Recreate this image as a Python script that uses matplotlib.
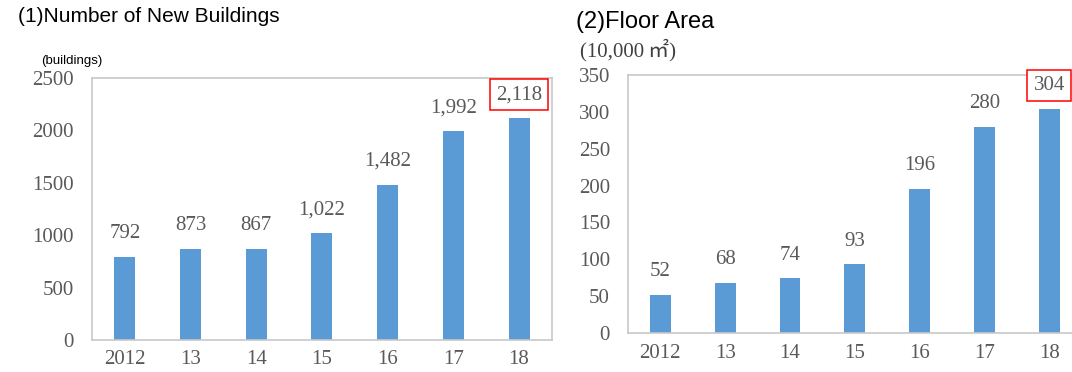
import matplotlib.pyplot as plt

# fiscal years on the x axis
years = ["2012", "13", "14", "15", "16", "17", "18"]
# (1) number of new buildings
buildings = [792, 873, 867, 1022, 1482, 1992, 2118]
# (2) floor area, in 10,000 m2
floor_area = [52, 68, 74, 93, 196, 280, 304]

bar_color = "#5B9BD5"
text_color = "#595959"
frame_color = "#C8C8C8"
num_font = ["Liberation Serif", "Noto Sans CJK JP"]

fig = plt.figure(figsize=(10.72, 3.72), dpi=100)
ax1 = fig.add_axes([0.0858, 0.086, 0.429, 0.704])
ax2 = fig.add_axes([0.5858, 0.1048, 0.4231, 0.6935])


def draw_panel(ax, values, ymax, step, xpad):
    x = range(len(values))
    ax.bar(x, values, width=0.32, color=bar_color, zorder=2)
    ax.set_xlim(-0.5, len(values) - 0.5)
    ax.set_ylim(0, ymax)
    ax.set_yticks(range(0, ymax + 1, step))
    ax.set_xticks(list(x))
    ax.set_xticklabels(years)
    ax.tick_params(length=0, labelsize=15, labelcolor=text_color)
    ax.tick_params(axis="y", pad=13)
    ax.tick_params(axis="x", pad=xpad)
    for lbl in ax.get_xticklabels() + ax.get_yticklabels():
        lbl.set_family(num_font)
    for sp in ax.spines.values():
        sp.set_color(frame_color)
        sp.set_linewidth(1.2)
    for i, v in enumerate(values):
        last = i == len(values) - 1
        ax.annotate(f"{v:,}", (i, v), xytext=(0, 10), textcoords="offset points",
                    ha="center", va="bottom", fontsize=15, color=text_color,
                    family=num_font, annotation_clip=False,
                    bbox=dict(boxstyle="square,pad=0.3", fc="white", ec="#FF0000", lw=1.1)
                    if last else None)


draw_panel(ax1, buildings, 2500, 500, 7)
draw_panel(ax2, floor_area, 350, 50, 8)

fig.text(18 / 1072, 1 - 17 / 372, "(1)Number of New Buildings", fontsize=15,
         family="Liberation Sans", va="center", ha="left")
fig.text(41 / 1072, 1 - 61 / 372, "(buildings)", fontsize=9.5,
         family="Liberation Sans", va="center", ha="left")
fig.text(576 / 1072, 1 - 22 / 372, "(2)Floor Area", fontsize=17,
         family="Liberation Sans", va="center", ha="left")
fig.text(580 / 1072, 1 - 50 / 372, "(10,000\u2009㎡)", fontsize=15,
         family=num_font, color="#404040", va="center", ha="left")

fig.savefig("out.png", dpi=100)
